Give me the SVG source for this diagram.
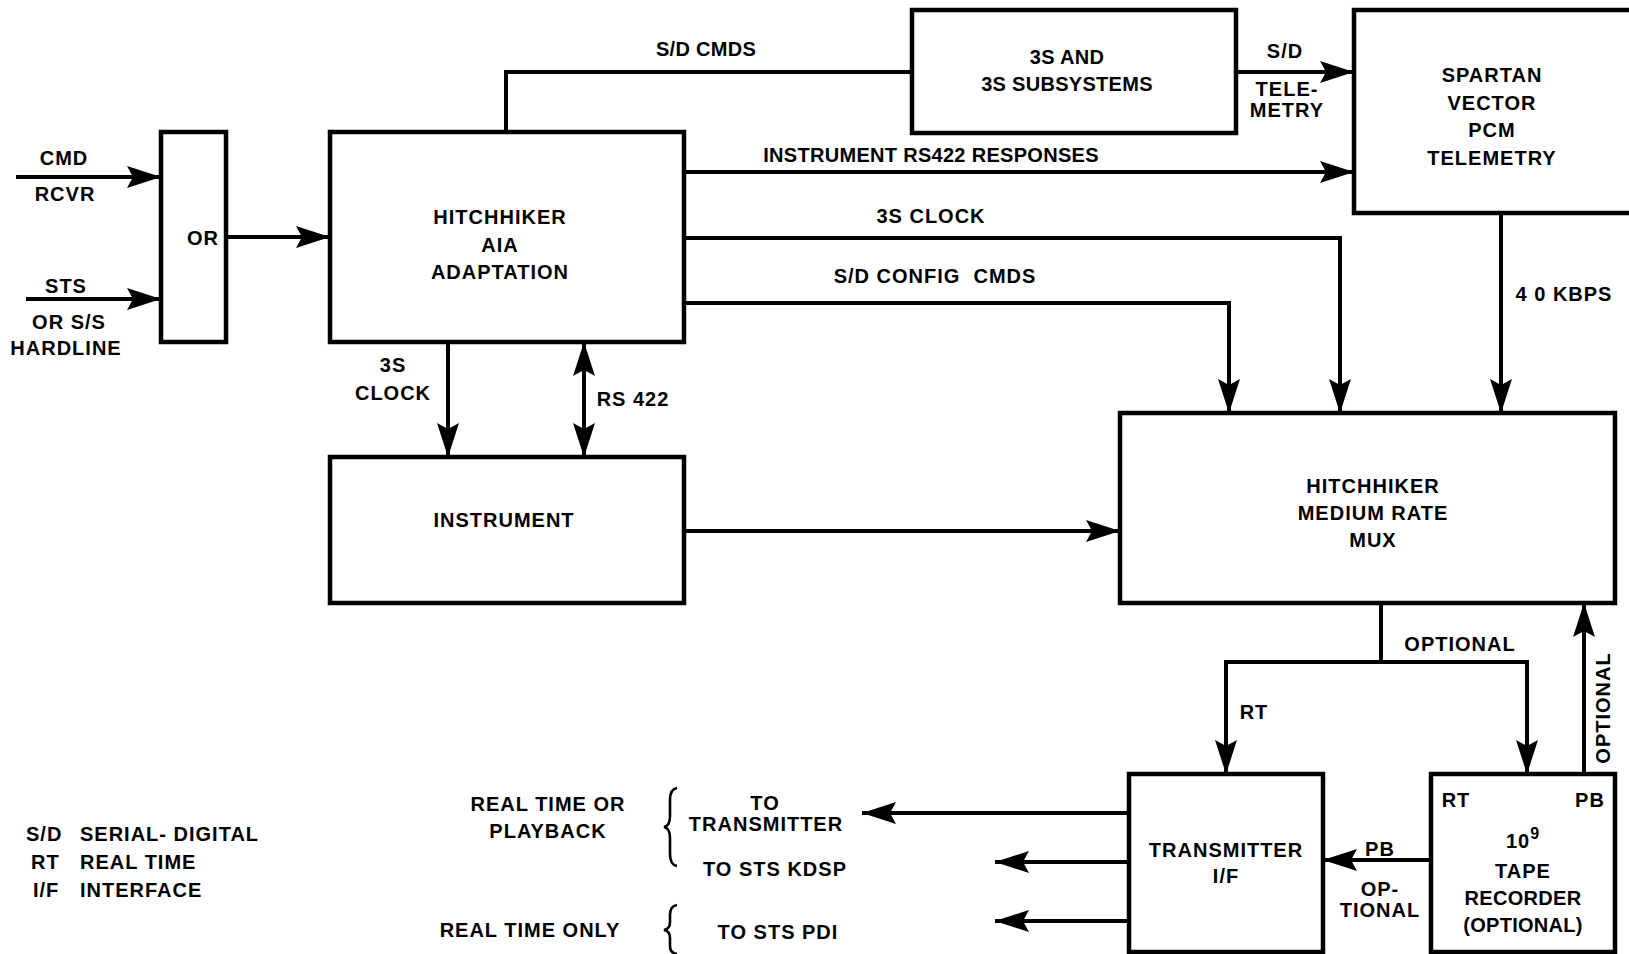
<svg xmlns="http://www.w3.org/2000/svg" width="1629" height="954" viewBox="0 0 1629 954">
<style>
.box{fill:#fff;stroke:#000;stroke-width:4.5}
.ln{fill:none;stroke:#000;stroke-width:4}
.br{fill:none;stroke:#000;stroke-width:2.6}
text{font-family:"Liberation Sans",Arial,sans-serif;font-weight:bold;font-size:20px;letter-spacing:1px;fill:#000;text-anchor:middle}
.l{text-anchor:start}
.n{letter-spacing:0.3px}
.pre{white-space:pre}
</style>
<defs>
<marker id="ah" markerUnits="userSpaceOnUse" markerWidth="36" markerHeight="22" refX="34" refY="11" orient="auto">
<path d="M0,0 L34,11 L0,22 L6,11 z" fill="#000"/>
</marker>
<marker id="ahs" markerUnits="userSpaceOnUse" markerWidth="36" markerHeight="22" refX="0" refY="11" orient="auto">
<path d="M34,0 L0,11 L34,22 L28,11 z" fill="#000"/>
</marker>
</defs>
<g id="connectors">
<line class="ln" x1="16" y1="177" x2="161" y2="177" marker-end="url(#ah)"/>
<line class="ln" x1="26" y1="299" x2="161" y2="299" marker-end="url(#ah)"/>
<line class="ln" x1="226" y1="237" x2="330" y2="237" marker-end="url(#ah)"/>
<polyline class="ln" points="506,132 506,72 912,72"/>
<line class="ln" x1="1236" y1="72" x2="1354" y2="72" marker-end="url(#ah)"/>
<line class="ln" x1="684" y1="172" x2="1354" y2="172" marker-end="url(#ah)"/>
<polyline class="ln" points="684,238 1340,238 1340,413" marker-end="url(#ah)"/>
<polyline class="ln" points="684,303 1229,303 1229,413" marker-end="url(#ah)"/>
<line class="ln" x1="1501" y1="213" x2="1501" y2="413" marker-end="url(#ah)"/>
<line class="ln" x1="448" y1="342" x2="448" y2="457" marker-end="url(#ah)"/>
<line class="ln" x1="584" y1="342" x2="584" y2="457" marker-start="url(#ahs)" marker-end="url(#ah)"/>
<line class="ln" x1="684" y1="531" x2="1120" y2="531" marker-end="url(#ah)"/>
<line class="ln" x1="1381" y1="603" x2="1381" y2="662"/>
<polyline class="ln" points="1226,774 1226,662 1527,662 1527,774"/>
<line class="ln" x1="1226" y1="700" x2="1226" y2="774" marker-end="url(#ah)"/>
<line class="ln" x1="1527" y1="700" x2="1527" y2="774" marker-end="url(#ah)"/>
<line class="ln" x1="1584" y1="774" x2="1584" y2="603" marker-end="url(#ah)"/>
<line class="ln" x1="1431" y1="860" x2="1323" y2="860" marker-end="url(#ah)"/>
<line class="ln" x1="1129" y1="813" x2="862" y2="813" marker-end="url(#ah)"/>
<line class="ln" x1="1129" y1="862" x2="995" y2="862" marker-end="url(#ah)"/>
<line class="ln" x1="1129" y1="921" x2="995" y2="921" marker-end="url(#ah)"/>
<path class="br" d="M677,788 Q670,789 670,800 L670,816 Q670,826 664,827 Q670,828 670,838 L670,854 Q670,865 677,866"/>
<path class="br" d="M677,905 Q670,906 670,915 L670,922 Q670,929 664,930 Q670,931 670,938 L670,946 Q670,953 677,954"/>
<text class="n" x="706" y="56">S/D CMDS</text>
<text x="1285" y="58">S/D</text>
<text x="1287" y="96">TELE-</text>
<text x="1287" y="117">METRY</text>
<text class="n" x="931" y="162">INSTRUMENT RS422 RESPONSES</text>
<text x="931" y="223">3S CLOCK</text>
<text class="pre" x="935" y="283">S/D CONFIG  CMDS</text>
<text x="1564" y="301">4 0 KBPS</text>
<text x="393" y="372">3S</text>
<text x="393" y="400">CLOCK</text>
<text x="633" y="406">RS 422</text>
<text x="1460" y="651">OPTIONAL</text>
<text x="1254" y="719">RT</text>
<text transform="translate(1610,708) rotate(-90)">OPTIONAL</text>
<text x="1380" y="856">PB</text>
<text x="1380" y="896">OP-</text>
<text x="1380" y="917">TIONAL</text>
<text x="64" y="165">CMD</text>
<text x="65" y="201">RCVR</text>
<text x="66" y="293">STS</text>
<text x="69" y="329">OR S/S</text>
<text x="66" y="355">HARDLINE</text>
</g>
<g id="or"><rect class="box" x="161" y="132" width="65" height="210"/><text x="203" y="245">OR</text></g>
<g id="aia"><rect class="box" x="330" y="132" width="354" height="210"/><text x="500" y="224">HITCHHIKER</text><text x="500" y="252">AIA</text><text x="500" y="279">ADAPTATION</text></g>
<g id="subsys"><rect class="box" x="912" y="10" width="324" height="123"/><text class="n" x="1067" y="64">3S AND</text><text class="n" x="1067" y="91">3S SUBSYSTEMS</text></g>
<g id="spartan"><rect class="box" x="1354" y="10" width="290" height="203"/><text x="1492" y="82">SPARTAN</text><text x="1492" y="110">VECTOR</text><text x="1492" y="137">PCM</text><text x="1492" y="165">TELEMETRY</text></g>
<g id="instrument"><rect class="box" x="330" y="457" width="354" height="146"/><text x="504" y="527">INSTRUMENT</text></g>
<g id="mux"><rect class="box" x="1120" y="413" width="495" height="190"/><text x="1373" y="493">HITCHHIKER</text><text x="1373" y="520">MEDIUM RATE</text><text x="1373" y="547">MUX</text></g>
<g id="transmitter"><rect class="box" x="1129" y="774" width="194" height="178"/><text x="1226" y="857">TRANSMITTER</text><text x="1226" y="883">I/F</text></g>
<g id="tape"><rect class="box" x="1431" y="774" width="184" height="178"/><text x="1456" y="807">RT</text><text x="1590" y="807">PB</text><text x="1523" y="848">10<tspan font-size="16px" dy="-9">9</tspan></text><text x="1523" y="878">TAPE</text><text class="n" x="1523" y="905">RECORDER</text><text class="n" x="1523" y="932">(OPTIONAL)</text></g>
<g id="outputs"><text x="548" y="811">REAL TIME OR</text><text x="548" y="838">PLAYBACK</text><text x="765" y="810">TO</text><text x="766" y="831">TRANSMITTER</text><text x="775" y="876">TO STS KDSP</text><text x="530" y="937">REAL TIME ONLY</text><text x="778" y="939">TO STS PDI</text></g>
<g id="legend"><text class="l" x="26" y="841">S/D</text><text class="l" x="80" y="841">SERIAL- DIGITAL</text><text class="l" x="31" y="869">RT</text><text class="l" x="80" y="869">REAL TIME</text><text class="l" x="33" y="897">I/F</text><text class="l" x="80" y="897">INTERFACE</text></g>
</svg>
